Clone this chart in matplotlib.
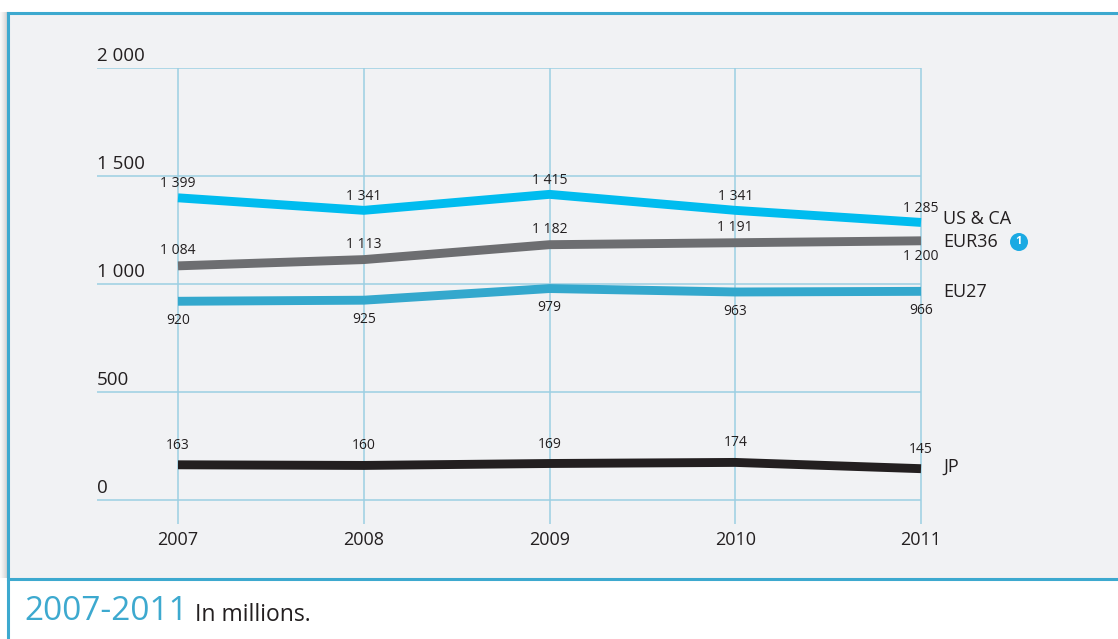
import matplotlib
matplotlib.use("Agg")
import matplotlib.pyplot as plt
from matplotlib.patches import Rectangle, Circle
from matplotlib.transforms import IdentityTransform

plt.rcParams['font.family'] = ['Open Sans', 'DejaVu Sans']

years = [2007, 2008, 2009, 2010, 2011]
us_ca = [1399, 1341, 1415, 1341, 1285]
eur36 = [1084, 1113, 1182, 1191, 1200]
eu27 = [920, 925, 979, 963, 966]
jp = [163, 160, 169, 174, 145]
y_ticks = [0, 500, 1000, 1500, 2000]
y_tick_labels = ["0", "500", "1 000", "1 500", "2 000"]
series_names = ["US & CA", "EUR36", "EU27", "JP"]

W, H = 1118, 639
fig = plt.figure(figsize=(W / 100, H / 100), dpi=100)
fig.patch.set_facecolor("white")

def fx(px):
    return px / W

def fy(py):
    return 1 - py / H

# shadow on left
for i, a in enumerate([0.04, 0.06, 0.09, 0.12, 0.16, 0.2, 0.25]):
    fig.patches.append(Rectangle((fx(i), fy(578)), fx(1), fy(12) - fy(578),
                                 transform=fig.transFigure, facecolor="#555555",
                                 alpha=a, edgecolor="none", zorder=-3))
# panel
fig.patches.append(Rectangle((fx(8), fy(579)), fx(1200), fy(13) - fy(579),
                             transform=fig.transFigure, facecolor="#F1F2F4",
                             edgecolor="none", zorder=-2))
border = "#3DA9CF"
fig.add_artist(plt.Line2D([fx(8), fx(1120)], [fy(13), fy(13)], transform=fig.transFigure, color=border, lw=2.2, zorder=-1))
fig.add_artist(plt.Line2D([fx(8), fx(1120)], [fy(579), fy(579)], transform=fig.transFigure, color=border, lw=2.2, zorder=-1))
fig.add_artist(plt.Line2D([fx(8), fx(8)], [fy(13), fy(640)], transform=fig.transFigure, color=border, lw=2.2, zorder=-1))

# axes
ax_left, ax_right, ax_top, ax_bottom = 97, 922, 68, 524
ax = fig.add_axes([fx(ax_left), fy(ax_bottom), fx(ax_right - ax_left), fy(ax_top) - fy(ax_bottom)])
ax.set_zorder(1)
ax.set_facecolor("none")
ppy = (921 - 178) / 4.0
ax.set_xlim(2007 - (178 - ax_left) / ppy, 2011 + (ax_right - 921) / ppy)
ppv = 108 / 500.0
ax.set_ylim(-(ax_bottom - 500) / ppv, 2000)
for s in ax.spines.values():
    s.set_visible(False)
ax.set_xticks([])
ax.set_yticks([])

grid_c = "#9CCFE3"
ax.hlines(y_ticks, ax.get_xlim()[0], 2011, color=grid_c, lw=1.1, zorder=1)
ax.vlines(years, ax.get_ylim()[0], 2000, color=grid_c, lw=1.1, zorder=1)

for v, lab in zip(y_ticks, y_tick_labels):
    ax.annotate(lab, xy=(0, v), xycoords=("axes fraction", "data"), xytext=(0, 2),
                textcoords="offset points", ha="left", va="bottom", fontsize=13.5, color="#231F20")
for yr in years:
    ax.annotate(str(yr), xy=(yr, ax.get_ylim()[0]), xytext=(0, -5), textcoords="offset points",
                ha="center", va="top", fontsize=13, color="#231F20", annotation_clip=False)

def fmt(v):
    return f"{v:,}".replace(",", " ")

series = [
    (us_ca, "#00BCEF", [10] * 5),
    (eur36, "#6D6E71", [11, 11, 11, 11, -11]),
    (eu27, "#34A8CD", [-14] * 5),
    (jp, "#231F20", [14] * 5),
]
for vals, col, offs in series:
    ax.plot(years, vals, color=col, lw=6.4, solid_capstyle="butt", solid_joinstyle="miter", zorder=3)
    for yr, v, o in zip(years, vals, offs):
        ax.annotate(fmt(v), xy=(yr, v), xytext=(0, o), textcoords="offset points",
                    ha="center", va="center", fontsize=10, color="#231F20", zorder=4)

# series labels
label_y_px = [219, 242, 292, 467]
for name, py in zip(series_names, label_y_px):
    fig.text(fx(943), fy(py), name, ha="left", va="center", fontsize=13, color="#231F20")

# badge
fig.patches.append(Circle((1019, H - 242), radius=9, transform=IdentityTransform(),
                          facecolor="#1BAAE3", edgecolor="none", zorder=5))
fig.text(fx(1019), fy(242), "1", ha="center", va="center", fontsize=8, color="white",
         fontweight="bold", zorder=6)

# caption
fig.text(fx(24), fy(612), "2007-2011", ha="left", va="center", fontsize=24, color="#3DA9CF")
fig.text(fx(195), fy(615), "In millions.", ha="left", va="center", fontsize=16.5, color="#231F20")

fig.savefig("out.png", dpi=100)
